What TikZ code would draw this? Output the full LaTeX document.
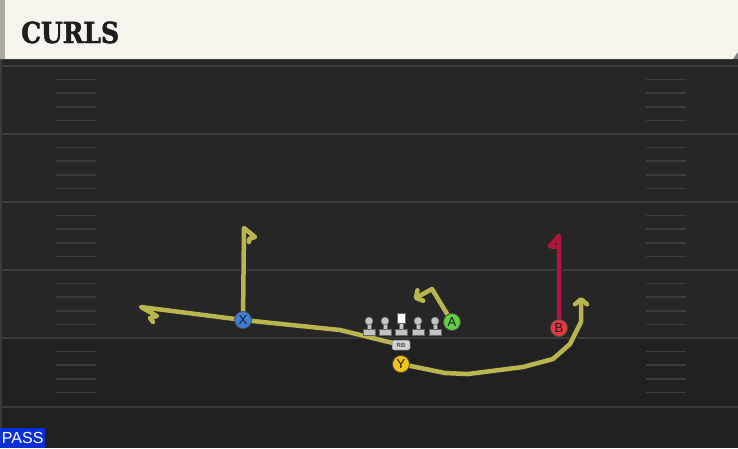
\documentclass[tikz,border=0pt]{standalone}
\usepackage{fontspec}
\usetikzlibrary{arrows.meta}
\newfontfamily\titlefont{DejaVu Serif}[FakeStretch=0.86,FakeBold=1.6]
\newfontfamily\labelfont{Liberation Sans}
\definecolor{field}{HTML}{262626}
\definecolor{fieldlow}{HTML}{212121}
\definecolor{yardline}{HTML}{3A3A3A}
\definecolor{hashline}{HTML}{3B3B3B}
\definecolor{banner}{HTML}{F6F4EC}
\definecolor{bannerside}{HTML}{A9A9A4}
\definecolor{titleink}{HTML}{1E1E1E}
\definecolor{passblue}{HTML}{0B2FD6}
\definecolor{routeyellow}{HTML}{B9B650}
\definecolor{routered}{HTML}{B0143C}
\definecolor{xblue}{HTML}{3D7FD9}
\definecolor{agreen}{HTML}{62D140}
\definecolor{bred}{HTML}{E5393F}
\definecolor{yyellow}{HTML}{F2C418}
\definecolor{linegray}{HTML}{C4C4C4}
\tikzset{
  yard/.style={draw=yardline,line width=1.6pt},
  hash/.style={draw=hashline,line width=1.6pt},
  route/.style={draw=routeyellow,line width=4.5pt,line join=round,line cap=round,
    preaction={draw=black!85,line width=6.5pt,line join=round,line cap=round}},
  player/.style={circle,draw=black!70,line width=0.8pt,minimum size=17pt,inner sep=0pt,
    text=black!90,font=\labelfont\fontsize{13}{13}\selectfont},
  rbtag/.style={rounded corners=2pt,fill=gray!35,draw=black!60,line width=0.5pt,
    minimum width=18pt,minimum height=10pt,inner sep=0pt,text=black!70,
    font=\labelfont\bfseries\fontsize{6}{6}\selectfont},
  lineman/.style={fill=linegray,draw=black!60,line width=0.5pt}
}
\begin{document}
\begin{tikzpicture}[x=1pt,y=-1pt,>={Straight Barb[length=5pt,width=12pt,round]}]
\useasboundingbox (0,0) rectangle (738,448);
\fill[field] (0,59) rectangle (738,448);
\fill[fieldlow] (0,338) rectangle (738,448);
\fill[black!85] (0,59) rectangle (738,64);
\fill[yardline] (0,59) rectangle (2,448);
\foreach \yl in {66,134,202,270,338,407}
  \draw[yard] (0,\yl) -- (738,\yl);
\foreach \yl in {66,134,202,270,338}
  \foreach \k in {1,2,3,4}{
    \draw[hash] (56,\yl+13.6*\k) -- (96,\yl+13.6*\k);
    \draw[hash] (646,\yl+13.6*\k) -- (686,\yl+13.6*\k);
  }
\fill[banner] (0,0) -- (738,0) -- (738,52) -- (733,59) -- (0,59) -- cycle;
\fill[bannerside] (0,0) rectangle (5,59);
\fill[gray] (738,52) -- (738,59) -- (733,59) -- cycle;
\node[anchor=base west,inner sep=0pt,text=titleink,font=\titlefont\bfseries\fontsize{29}{29}\selectfont]
  (title) at (21,43) {CURLS};
\node[anchor=south west,fill=passblue,text=white,minimum width=45pt,minimum height=20pt,
  inner sep=0pt,font=\labelfont\fontsize{16}{16}\selectfont] (pass) at (0,448) {PASS};

\coordinate (x0) at (243,320);
\coordinate (a0) at (452,322);
\coordinate (b0) at (559,328);
\coordinate (y0) at (401,364);
\coordinate (rb0) at (401,345);
\coordinate (xtop) at (244,228);
\coordinate (rbend) at (141,307);
\coordinate (yend) at (581,297);
\coordinate (aend) at (414,299);
\coordinate (btop) at (559,236);

\draw[route] (x0) -- (xtop) -- (255,237) -- (249,239) -- (249,242);
\draw[route] (rb0) -- (340,330) -- (x0) -- (rbend) -- (157,316) -- (150,318) -- (153,322);
\draw[route,->] (y0) -- (445,373) -- (468,374) -- (523,367) -- (553,359)
  -- (570,344) -- (581,322) -- (yend);
\draw[route,->] (a0) -- (432,289) -- (aend);
\draw[route,draw=routered] (b0) -- (btop) -- (550,246) -- (555,247);

\foreach \lx in {369,385,418,435}{
  \draw[lineman] (\lx-2,324) rectangle (\lx+2,330);
  \draw[lineman] (\lx-6,329) rectangle (\lx+6,335);
  \draw[lineman] (\lx,321) circle (4);
}
\draw[lineman] (399,322) rectangle (403,330);
\draw[lineman] (395,329) rectangle (407,335);
\draw[lineman,fill=white] (397,313) rectangle (405,323);

\node[player,fill=xblue] (X) at (x0) {X};
\node[player,fill=agreen] (A) at (a0) {A};
\node[player,fill=bred] (B) at (b0) {B};
\node[player,fill=yyellow] (Y) at (y0) {Y};
\node[rbtag] (RB) at (rb0) {RB};
\end{tikzpicture}
\end{document}
